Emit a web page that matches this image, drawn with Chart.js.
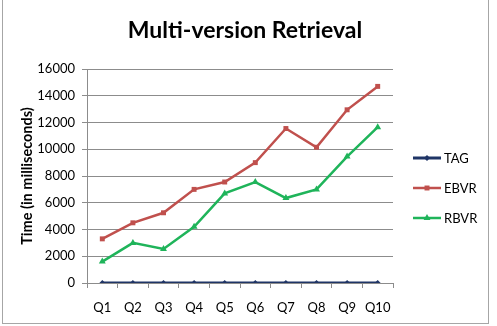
<!DOCTYPE html>
<html>
<head>
<meta charset="utf-8">
<script src="https://cdn.jsdelivr.net/npm/chart.js@4.4.0/dist/chart.umd.min.js"></script>
<style>
  html, body { margin: 0; padding: 0; background: #fff; }
  #box {
    position: absolute; left: 2px; top: 0; width: 485px; height: 323px;
    border-left: 1px solid #a6a6a6; border-right: 1px solid #a6a6a6; border-bottom: 1px solid #a6a6a6;
  }
</style>
</head>
<body>
<div id="box"><canvas id="grafico" width="485" height="323"></canvas></div>
<script>
const categorias = ["Q1", "Q2", "Q3", "Q4", "Q5", "Q6", "Q7", "Q8", "Q9", "Q10"];
const valoresTAG = [0, 0, 0, 0, 0, 0, 0, 0, 0, 0];
const valoresEBVR = [3300, 4500, 5250, 7000, 7550, 9000, 11550, 10150, 12950, 14700];
const valoresRBVR = [1600, 3000, 2550, 4200, 6700, 7550, 6350, 7000, 9450, 11650];
const ticksY = [0, 2000, 4000, 6000, 8000, 10000, 12000, 14000, 16000];
const titulo = "Multi-version Retrieval";

const fonte = "Lato, 'Liberation Sans', sans-serif";

// título centrado na caixa inteira + legenda à direita (linha + marcador)
const extras = {
  id: "extras",
  afterDraw(chart) {
    const ctx = chart.ctx;
    ctx.save();
    ctx.fillStyle = "#000";
    ctx.font = "bold 23px " + fonte;
    ctx.textAlign = "center";
    ctx.textBaseline = "middle";
    ctx.fillText(titulo, 242, 31);
    ctx.restore();

    const x0 = 410;
    const ys = [158, 188, 218];
    chart.data.datasets.forEach((ds, i) => {
      const y = ys[i];
      ctx.save();
      ctx.strokeStyle = ds.borderColor;
      ctx.lineWidth = ds.borderWidth;
      ctx.beginPath();
      ctx.moveTo(x0, y);
      ctx.lineTo(x0 + 28, y);
      ctx.stroke();
      ctx.fillStyle = ds.backgroundColor;
      Chart.helpers.drawPoint(ctx, {
        pointStyle: ds.pointStyle,
        radius: ds.pointRadius,
        borderWidth: 0,
        rotation: 0
      }, x0 + 14, y);
      ctx.fillStyle = "#000";
      ctx.font = "13px " + fonte;
      ctx.textBaseline = "middle";
      ctx.fillText(ds.label, x0 + 31, y + 1);
      ctx.restore();
    });
  }
};

new Chart(document.getElementById("grafico"), {
  type: "line",
  data: {
    labels: categorias,
    datasets: [
      {
        label: "TAG",
        data: valoresTAG,
        borderColor: "#1f3566",
        backgroundColor: "#1f3566",
        borderWidth: 3,
        pointStyle: "rectRot",
        pointRadius: 3,
        pointBorderWidth: 0
      },
      {
        label: "EBVR",
        data: valoresEBVR,
        borderColor: "#c0504d",
        backgroundColor: "#c0504d",
        borderWidth: 2.5,
        pointStyle: "rect",
        pointRadius: 3.5,
        pointBorderWidth: 0
      },
      {
        label: "RBVR",
        data: valoresRBVR,
        borderColor: "#1fb45a",
        backgroundColor: "#1fb45a",
        borderWidth: 2.5,
        pointStyle: "triangle",
        pointRadius: 4,
        pointBorderWidth: 0
      }
    ]
  },
  options: {
    responsive: false,
    animation: false,
    layout: { padding: { top: 69, right: 95, bottom: 0, left: 0 } },
    plugins: {
      legend: { display: false },
      tooltip: { enabled: false },
      title: { display: false }
    },
    scales: {
      x: {
        offset: true,
        grid: { display: true, drawOnChartArea: false, offset: true, tickLength: 5, color: "#8c8c8c" },
        border: { color: "#8c8c8c" },
        ticks: { color: "#000", font: { family: fonte, size: 13 }, padding: 12, maxRotation: 0 },
        afterFit(scale) { scale.height = 40; }
      },
      y: {
        min: 0,
        max: 16000,
        afterBuildTicks(scale) { scale.ticks = ticksY.map(v => ({ value: v })); },
        grid: { color: "#8c8c8c", tickLength: 5 },
        border: { color: "#8c8c8c" },
        ticks: {
          color: "#000",
          font: { family: fonte, size: 13 },
          padding: 7,
          callback: (v) => String(v)
        },
        title: {
          display: true,
          text: "Time (in milliseconds)",
          color: "#000",
          font: { family: fonte, size: 14.5, weight: "bold" },
          padding: { top: 16, bottom: 0 }
        },
        afterFit(scale) { scale.width = 84; }
      }
    }
  },
  plugins: [extras]
});
</script>
</body>
</html>
